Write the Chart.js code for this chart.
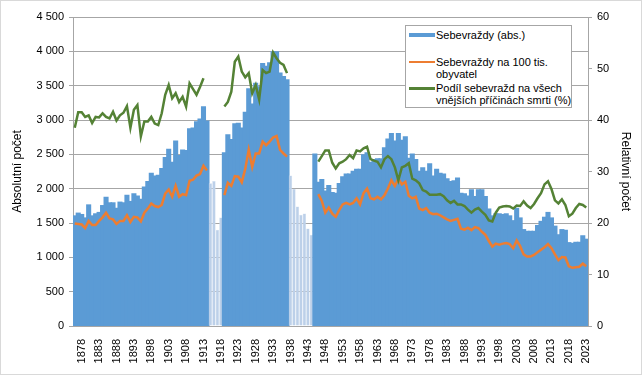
<!DOCTYPE html>
<html lang="cs">
<head>
<meta charset="utf-8">
<title>Sebevraždy</title>
<script src="https://cdn.jsdelivr.net/npm/chart.js@4.4.1/dist/chart.umd.min.js"></script>
<style>
  html, body { margin: 0; padding: 0; background: #fff; }
  #wrap { position: relative; width: 642px; height: 375px; font-family: "Liberation Sans", Arial, sans-serif; }
  #frame { position: absolute; left: 0; top: 0; width: 640px; height: 373px; border: 1px solid #d9d9d9; pointer-events: none; }
  #legend { position: absolute; left: 405px; top: 25px; width: 165px; height: 81px; background: #fff; border: 1px solid #a6a6a6; font-size: 11px; line-height: 12px; color: #000; }
  #legend .sw { position: absolute; left: 3px; width: 26px; }
  #legend .tx { position: absolute; left: 30px; white-space: nowrap; }
</style>
</head>
<body>
<div id="wrap">
  <canvas id="c" width="642" height="375"></canvas>
  <div id="legend">
    <div class="sw" style="top:7px;height:4px;background:#5b9bd5"></div>
    <div class="tx" style="top:3px">Sebevraždy (abs.)</div>
    <div class="sw" style="top:35px;height:2px;background:#ed7d31"></div>
    <div class="tx" style="top:30px">Sebevraždy na 100 tis.<br>obyvatel</div>
    <div class="sw" style="top:61px;height:3px;background:#548235"></div>
    <div class="tx" style="top:56px">Podíl sebevražd na všech<br>vnějších příčinách smrti (%)</div>
  </div>
  <div id="frame"></div>
</div>
<script>
// roky 1876–2023
const years = [
  1876,1877,1878,1879,1880,1881,1882,1883,1884,1885,
  1886,1887,1888,1889,1890,1891,1892,1893,1894,1895,
  1896,1897,1898,1899,1900,1901,1902,1903,1904,1905,
  1906,1907,1908,1909,1910,1911,1912,1913,1914,1915,
  1916,1917,1918,1919,1920,1921,1922,1923,1924,1925,
  1926,1927,1928,1929,1930,1931,1932,1933,1934,1935,
  1936,1937,1938,1939,1940,1941,1942,1943,1944,1945,
  1946,1947,1948,1949,1950,1951,1952,1953,1954,1955,
  1956,1957,1958,1959,1960,1961,1962,1963,1964,1965,
  1966,1967,1968,1969,1970,1971,1972,1973,1974,1975,
  1976,1977,1978,1979,1980,1981,1982,1983,1984,1985,
  1986,1987,1988,1989,1990,1991,1992,1993,1994,1995,
  1996,1997,1998,1999,2000,2001,2002,2003,2004,2005,
  2006,2007,2008,2009,2010,2011,2012,2013,2014,2015,
  2016,2017,2018,2019,2020,2021,2022,2023
];

// válečná léta (světlé sloupce)
const warYears = [1915,1916,1917,1918,1938,1939,1940,1941,1942,1943,1944];

// Sebevraždy (abs.)
const suicidesAbs = [
  1600,1640,1620,1570,1760,1600,1630,1650,1750,1870,
  1790,1790,1710,1800,1790,1900,1810,1920,1890,1840,
  2020,2100,2220,2180,2190,2290,2450,2570,2380,2690,
  2480,2560,2550,2870,2880,2970,3010,3190,2980,2080,
  2110,1400,1580,2520,2780,2710,2940,2950,2880,3110,
  3450,3230,3530,3480,3820,3780,3830,3990,3990,3680,
  3630,3580,2190,2000,1740,1620,1640,1420,1330,2500,
  2090,2130,1960,2040,1940,1930,2070,2170,2210,2210,
  2250,2280,2280,2490,2520,2380,2420,2430,2430,2590,
  2720,2800,2690,2800,2700,2750,2440,2500,2420,2250,
  2300,2250,2360,2180,2280,2220,2210,2140,2100,2110,
  2150,1930,1920,1890,1980,1880,1980,1980,1880,1700,
  1600,1630,1630,1620,1630,1600,1530,1710,1570,1400,
  1375,1375,1375,1460,1520,1580,1650,1570,1450,1325,
  1400,1390,1210,1200,1215,1215,1310,1260
];

// Sebevraždy na 100 tis. obyvatel
const suicideRate = [
  19.9,19.8,19.7,19.0,20.4,19.6,19.6,20.4,21.1,22.0,
  20.9,20.7,19.8,20.4,20.4,21.5,20.2,21.2,21.1,20.3,
  22.0,22.8,23.8,23.3,23.1,23.5,25.7,26.5,25.1,27.2,
  25.1,25.6,25.4,28.2,28.4,29.2,29.5,31.1,30.2,null,
  null,null,null,25.4,27.8,27.2,29.1,29.0,27.9,30.5,
  34.2,30.9,33.5,33.5,35.8,35.1,35.8,36.6,36.9,34.2,
  33.5,32.9,null,null,null,null,null,null,null,null,
  25.6,24.3,22.0,23.0,21.8,21.2,22.5,23.6,23.9,23.6,
  23.9,24.8,23.6,25.8,26.7,24.8,24.6,25.1,24.6,25.4,
  26.7,28.3,27.2,28.6,27.5,28.0,25.3,24.8,25.1,22.8,
  22.5,22.9,22.0,21.7,21.8,21.5,21.1,20.7,20.4,20.6,
  20.8,18.9,18.7,19.1,18.6,19.2,19.0,18.3,17.7,16.5,
  15.4,16.0,15.8,16.0,16.1,15.9,15.1,16.6,15.5,13.9,
  13.5,13.5,13.8,14.3,14.8,15.3,15.9,15.1,13.9,12.8,
  13.4,13.3,11.6,11.3,11.4,11.5,12.1,11.6
];

// Podíl sebevražd na všech vnějších příčinách smrti (%)
const externalShare = [
  38.5,41.5,41.5,40.6,40.9,39.4,40.6,40.5,41.3,40.6,
  40.3,41.6,39.9,40.9,41.4,42.7,38.5,42.0,42.9,36.8,
  39.7,39.7,40.6,39.3,39.0,41.3,44.9,46.8,44.2,45.2,
  43.5,44.5,42.6,47.1,46.0,44.9,46.4,48.1,null,null,
  null,null,null,42.6,43.5,45.5,51.3,52.3,49.4,48.3,
  49.1,45.2,46.8,44.0,49.7,49.1,49.4,53.1,52.0,51.1,
  50.7,49.1,null,null,null,null,null,null,null,null,
  31.9,33.0,34.1,34.1,31.7,30.6,31.6,31.9,32.4,33.2,
  32.6,34.1,33.9,34.5,34.8,32.4,32.1,31.9,30.8,32.4,
  33.0,32.4,30.8,28.3,30.8,31.1,31.6,28.6,28.3,27.7,
  26.4,26.1,25.5,25.5,25.5,25.6,25.2,24.4,23.9,24.3,
  23.6,23.6,23.3,22.6,22.0,22.6,22.9,22.2,21.6,20.5,
  20.3,22.0,23.0,23.2,23.3,23.2,22.8,23.4,23.3,24.2,
  23.4,22.9,23.7,24.8,25.8,27.5,28.1,26.6,24.4,23.8,
  24.6,23.5,21.3,21.8,22.9,23.7,23.5,23.0
];

const FIRST_LABEL = 1878;   // popisky osy x po 5 letech
const LABEL_STEP = 5;

const BLUE = '#5b9bd5', BLUE_LIGHT = '#bcd0e9', BLUE_EDGE = '#d6e2f1';
const ORANGE = '#ed7d31', GREEN = '#548235', GRID = '#a6a6a6';

Chart.defaults.font.family = '"Liberation Sans", Arial, sans-serif';
Chart.defaults.color = '#000';

const isWar = years.map(y => warYears.includes(y));
const fmtThousands = v => String(v).replace(/\B(?=(\d{3})+(?!\d))/g, ' ');

new Chart(document.getElementById('c').getContext('2d'), {
  type: 'bar',
  data: {
    labels: years,
    datasets: [
      {
        type: 'line', label: 'Podíl sebevražd na všech vnějších příčinách smrti (%)',
        data: externalShare, yAxisID: 'y1', borderColor: GREEN, borderWidth: 2.5,
        pointRadius: 0, tension: 0, spanGaps: false, order: 0,
      },
      {
        type: 'line', label: 'Sebevraždy na 100 tis. obyvatel',
        data: suicideRate, yAxisID: 'y1', borderColor: ORANGE, borderWidth: 2.5,
        pointRadius: 0, tension: 0, spanGaps: false, order: 1,
      },
      {
        type: 'bar', label: 'Sebevraždy (abs.)',
        data: suicidesAbs, yAxisID: 'y',
        backgroundColor: isWar.map(w => w ? BLUE_LIGHT : BLUE),
        borderColor: isWar.map(w => w ? BLUE_EDGE : BLUE),
        borderWidth: isWar.map(w => w ? 0.5 : 0),
        inflateAmount: isWar.map(w => w ? 0 : 0.8),
        barPercentage: 1, categoryPercentage: 1, order: 2,
      },
    ],
  },
  options: {
    responsive: false, animation: false,
    layout: { padding: { top: 17, left: 0, right: 0, bottom: 0 } },
    plugins: { legend: { display: false }, tooltip: { enabled: false } },
    scales: {
      x: {
        offset: true,
        grid: { display: false },
        border: { display: true, color: GRID },
        ticks: {
          autoSkip: false, minRotation: 90, maxRotation: 90, padding: 5,
          font: { size: 11 },
          callback: function (val, i) {
            const y = years[i];
            return (y - FIRST_LABEL) % LABEL_STEP === 0 && y >= FIRST_LABEL ? String(y) : '';
          },
        },
        afterFit: s => { s.height = 49; },
      },
      y: {
        position: 'left', min: 0, max: 4500,
        grid: { color: GRID, tickLength: 4 },
        border: { color: GRID },
        ticks: { stepSize: 500, padding: 5, font: { size: 11 }, callback: v => fmtThousands(v) },
        title: { display: true, text: 'Absolutní počet', font: { size: 12 }, padding: { top: 10, bottom: 0 } },
        afterFit: s => { s.width = 73; },
      },
      y1: {
        position: 'right', min: 0, max: 60,
        grid: { drawOnChartArea: false, color: GRID, tickLength: 4 },
        border: { color: GRID },
        ticks: { stepSize: 10, padding: 5, font: { size: 11 } },
        title: { display: true, text: 'Relativní počet', font: { size: 12 }, padding: { top: 9, bottom: 0 } },
        afterFit: s => { s.width = 54; },
      },
    },
  },
});
</script>
</body>
</html>
